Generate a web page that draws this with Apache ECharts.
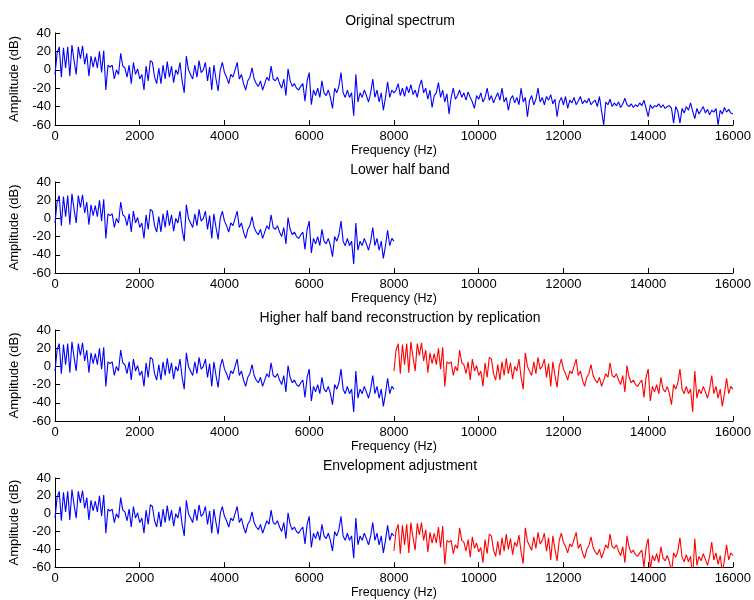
<!DOCTYPE html>
<html>
<head>
<meta charset="utf-8">
<script src="https://cdn.jsdelivr.net/npm/echarts@6/dist/echarts.min.js"></script>
<style>
html,body{margin:0;padding:0;background:#fff;}
#chart{width:754px;height:600px;}
</style>
</head>
<body>
<div id="chart"></div>
<script>
// Panel titles
var titles = ["Original spectrum", "Lower half band", "Higher half band reconstruction by replication", "Envelopment adjustment"];
var xAxisLabel = "Frequency (Hz)";
var yAxisLabel = "Amplitude (dB)";
var step = 50; // Hz between samples

// Lower half band (0 .. 8000 Hz), dB
var lowerBand = [
 -5, 18, 25, -8, 24, 2, 25, -7, 27, 10,
 -5, 25, 12, 26, 6, 18, -7, 15, 3, 14,
 2, 20, -3, 21, -22, 5, 3, 5, -10, 0,
 -5, 18, 4, 2, -8, 5, -15, 8, -5, 1,
 -10, -5, -22, 4, -12, 10, 8, -8, -15, 2,
 -15, 5, -10, 9, -8, 4, -14, 0, -5, 8,
 -12, -25, 15, 0, -5, -10, 5, -8, 10, -3,
 0, 8, -12, 3, -22, 5, -10, -23, 0, 8,
 -3, -8, -15, -5, -8, 0, 8, -10, -5, -15,
 -22, -12, -8, 2, -10, -15, -18, -12, -22, -15,
 -8, -12, 4, -10, -12, -8, -15, -20, -10, -28,
 1, -12, -18, -15, -20, -22, -18, -15, -34, -12,
 -3, -38, -22, -28, -20, -30, -12, -25, -28, -22,
 -30, -42, -20, -25, -18, -3, -25, -30, -22, -30,
 -25, -50, -5, -35, -25, -30, -22, -28, -35, -25,
 -10, -30, -22, -35, -25, -44, -30, -13, -30, -22,
 -25
];

// Original upper half (8050 .. 16000 Hz), dB
var originalHigh = [
 -22, -15, -28, -20, -29, -18, -25, -16, -27, -22,
 -30, -18, -11, -25, -20, -32, -22, -41, -28, -25,
 -14, -30, -22, -35, -26, -48, -30, -20, -32, -28,
 -22, -30, -25, -33, -24, -30, -35, -42, -28, -32,
 -25, -35, -30, -20, -33, -28, -36, -30, -25, -33,
 -20, -35, -30, -44, -32, -28, -36, -30, -38, -20,
 -35, -30, -51, -33, -28, -38, -32, -20, -35, -30,
 -38, -29, -33, -27, -37, -32, -51, -35, -30, -38,
 -29, -42, -33, -36, -30, -38, -34, -29, -37, -33,
 -36, -31, -38, -35, -33, -40, -29, -45, -60, -35,
 -38, -32, -40, -36, -39, -35, -41, -37, -31, -38,
 -40, -37, -41, -38, -40, -36, -39, -33, -42, -51,
 -38, -42, -39, -40, -37, -41, -38, -42, -40, -39,
 -42, -58, -40, -45, -58, -42, -47, -40, -44, -36,
 -45, -53, -42, -48, -44, -40, -47, -43, -49, -44,
 -46, -42, -60, -44, -48, -41, -46, -43, -47, -48
];

// Envelope-adjusted upper half (8000 .. 16000 Hz), dB
var adjustedHigh = [
 -42, -19, -12, -45, -13, -35, -12, -44, -10, -27,
 -41, -11, -24, -10, -30, -18, -43, -21, -33, -22,
 -33, -15, -38, -14, -57, -30, -32, -30, -45, -35,
 -39, -16, -30, -32, -42, -29, -49, -26, -39, -33,
 -43, -38, -55, -29, -45, -23, -25, -41, -48, -31,
 -47, -27, -42, -23, -40, -28, -46, -32, -37, -24,
 -43, -56, -16, -31, -36, -41, -26, -39, -21, -34,
 -30, -22, -42, -27, -52, -25, -40, -53, -30, -22,
 -32, -37, -44, -34, -37, -29, -21, -39, -34, -44,
 -50, -40, -36, -26, -38, -43, -46, -40, -50, -43,
 -35, -39, -23, -37, -39, -35, -42, -47, -37, -55,
 -25, -38, -44, -41, -46, -48, -44, -41, -60, -38,
 -28, -63, -47, -53, -45, -55, -37, -50, -53, -47,
 -54, -66, -44, -49, -42, -27, -49, -54, -46, -54,
 -48, -73, -28, -58, -48, -53, -45, -51, -58, -48,
 -32, -52, -44, -57, -47, -66, -52, -35, -52, -44,
 -47
];

function pairs(arr, startHz) {
  return arr.map(function (v, i) { return [startHz + i * step, v]; });
}

var lowerPts = pairs(lowerBand, 0);
var origPts = lowerPts.concat(pairs(originalHigh, 8000 + step));
var replPts = pairs(lowerBand, 8000);
var adjPts = pairs(adjustedHigh, 8000);

var grids = [
  {left: 55, width: 681, top: 33, height: 92},
  {left: 55, width: 681, top: 182, height: 91},
  {left: 55, width: 681, top: 330, height: 91},
  {left: 55, width: 681, top: 478, height: 91}
];
var titleTops = [9, 158, 306, 454];

var font = 'Liberation Sans, Arial, sans-serif';
var axisColor = '#000';

var xAxes = [], yAxes = [];
for (var k = 0; k < 4; k++) {
  xAxes.push({
    type: 'value', gridIndex: k, min: 0, max: 16000, interval: 2000,
    name: xAxisLabel, nameLocation: 'middle', nameGap: 18,
    nameTextStyle: {color: '#000', fontSize: 12.5, fontFamily: font},
    axisLine: {show: true, onZero: false, lineStyle: {color: axisColor, width: 1}},
    axisTick: {show: true, inside: true, length: 5, lineStyle: {color: axisColor}},
    axisLabel: {color: '#000', fontSize: 13, fontFamily: font, margin: 5,
      formatter: function (v) { return String(v); }},
    splitLine: {show: false}
  });
  yAxes.push({
    type: 'value', gridIndex: k, min: -60, max: 40, interval: 20,
    name: yAxisLabel, nameLocation: 'middle', nameGap: 27, nameRotate: 90,
    nameTextStyle: {color: '#000', fontSize: 13, fontFamily: font},
    axisLine: {show: true, onZero: false, lineStyle: {color: axisColor, width: 1}},
    axisTick: {show: true, inside: true, length: 5, lineStyle: {color: axisColor}},
    axisLabel: {color: '#000', fontSize: 13, fontFamily: font, margin: 4,
      formatter: function (v) { return String(v); }},
    splitLine: {show: false}
  });
}

function line(data, idx, color) {
  return {
    type: 'line', xAxisIndex: idx, yAxisIndex: idx, data: data,
    showSymbol: false, symbol: 'none', clip: true, animation: false,
    lineStyle: {color: color, width: 1.1}, itemStyle: {color: color}
  };
}

var option = {
  animation: false,
  backgroundColor: '#fff',
  title: titles.map(function (t, k) {
    return {text: t, left: 395, top: titleTops[k], textAlign: 'center',
      textStyle: {fontSize: 14, fontWeight: 'normal', color: '#000', fontFamily: font}};
  }),
  grid: grids,
  xAxis: xAxes,
  yAxis: yAxes,
  series: [
    line(origPts, 0, '#0000ff'),
    line(lowerPts, 1, '#0000ff'),
    line(lowerPts, 2, '#0000ff'),
    line(replPts, 2, '#ff0000'),
    line(lowerPts, 3, '#0000ff'),
    line(adjPts, 3, '#ff0000')
  ]
};

var chart = echarts.init(document.getElementById('chart'), null, {renderer: 'canvas'});
chart.setOption(option);
</script>
</body>
</html>
